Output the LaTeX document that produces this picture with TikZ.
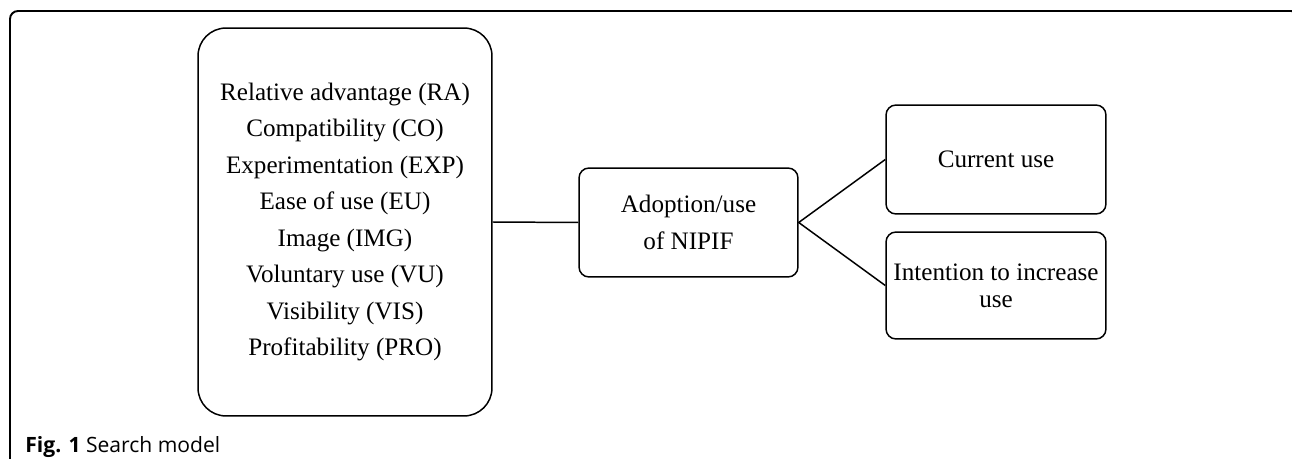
\documentclass[tikz,border=0pt]{standalone}
\usepackage{fontspec}
\setmainfont{Liberation Serif}
\newfontfamily\capfont{Open Sans}
\usetikzlibrary{positioning}
\begin{document}
\begin{tikzpicture}[x=0.02cm, y=-0.02cm,
		box/.style={draw, line width=0.85pt, align=center, font=\fontsize{14.3}{20.8}\selectfont},
		factorbox/.style={box, rounded corners=0.56cm, minimum width=5.88cm, minimum height=7.76cm},
		smallbox/.style={box, rounded corners=0.2cm, minimum width=4.4cm, minimum height=2.18cm}]
		\useasboundingbox (0,0) rectangle (1292,459);
		\begin{scope}
			\clip (0,0) rectangle (1292,459);
			\draw[line width=1.1pt, rounded corners=0.16cm] (10,470) -- (10,11) -- (1299,11) -- (1299,470);
		\end{scope}
		\node[factorbox] (factors) at (345,222) {
			Relative advantage (RA)\\
			Compatibility (CO)\\
			Experimentation (EXP)\\
			Ease of use (EU)\\
			Image (IMG)\\
			Voluntary use (VU)\\
			Visibility (VIS)\\
			Profitability (PRO)};
		\node[smallbox, minimum width=4.38cm] (adoption) at (688.5,222.5) {Adoption/use\\of NIPIF};
		\node[smallbox] (current) at (996,159.5) {Current use};
		\node[smallbox, minimum height=2.14cm, inner sep=1pt, font=\fontsize{14.3}{15.4}\selectfont] (intention) at (996,285.5) {Intention to increase\\use};
		\draw[line width=0.85pt] (factors.east) -- (adoption.west);
		\draw[line width=0.85pt] (current.west) -- (adoption.east) -- (intention.west);
		\node[anchor=base west, inner sep=0pt, font=\capfont\fontsize{12}{14}\selectfont] (caption) at (25,452) {\textbf{Fig. 1} Search model};
	\end{tikzpicture}
\end{document}
